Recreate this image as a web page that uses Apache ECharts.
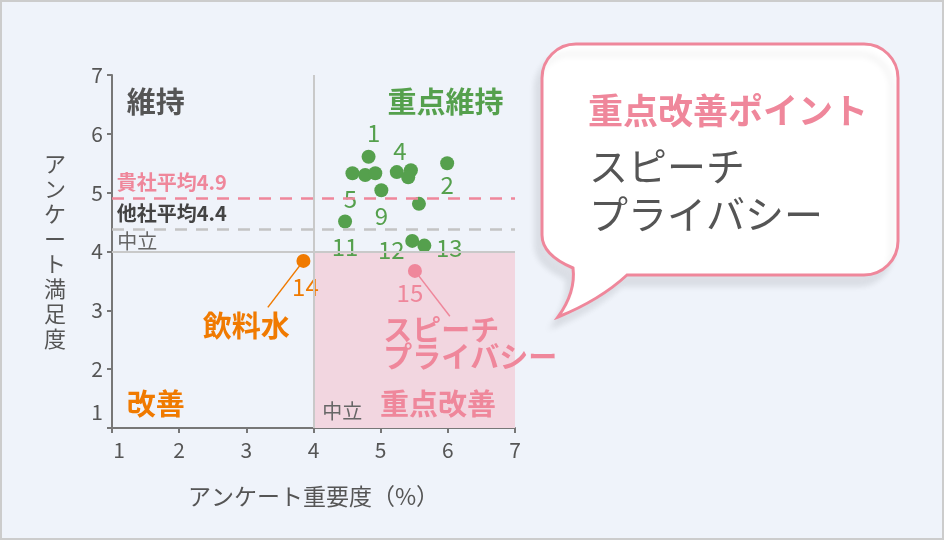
<!DOCTYPE html>
<html><head><meta charset="utf-8">
<script src="https://cdn.jsdelivr.net/npm/echarts@6/dist/echarts.min.js"></script>
<style>html,body{margin:0;padding:0;background:#eff3fa}#c{width:944px;height:540px}</style>
</head><body><div id="c"></div><script>
// ---- data ----
const pointIds     = [1, 2, 3, 4, 5, 6, 7, 8, 9, 10, 11, 12, 13, 14, 15];
const importance   = [4.82, 5.99, 5.45, 5.24, 4.58, 4.77, 4.92, 5.41, 5.01, 5.57, 4.47, 5.47, 5.65, 3.85, 5.51];
const satisfaction = [5.61, 5.50, 5.38, 5.35, 5.33, 5.30, 5.33, 5.26, 5.04, 4.81, 4.51, 4.18, 4.10, 3.84, 3.67];
const pointGroup   = ['重点維持','重点維持','重点維持','重点維持','重点維持','重点維持','重点維持','重点維持','重点維持','重点維持','重点維持','重点維持','重点維持','改善','重点改善'];
const labelledIds  = [1, 2, 4, 5, 9, 11, 12, 13, 14, 15];
const xTicks = [1, 2, 3, 4, 5, 6, 7];
const yTicks = [1, 2, 3, 4, 5, 6, 7];
const neutral = 4;
const ownAverage = 4.9;
const otherAverage = 4.37;
const quadrantNames = ['維持', '重点維持', '改善', '重点改善'];
const neutralLabel = '中立';
const ownAverageLabel = '貴社平均';
const otherAverageLabel = '他社平均';
const highlightNames = {14: '飲料水', 15: 'スピーチ\nプライバシー'};
const calloutTitle = '重点改善ポイント';
const calloutItems = ['スピーチ', 'プライバシー'];
const xName = 'アンケート重要度（%）';
const yName = 'アンケート満足度';

// ---- styles / layout ----
const FONT = 'Noto Sans CJK JP';
const groupColor = {'重点維持': '#55a04d', '改善': '#f07a00', '重点改善': '#ef879b'};
const PINK = '#ef879b', GREEN = '#55a04d', ORANGE = '#f07a00', DARK = '#555555', GRAY = '#666666';
const labelOffsets = {1:[5,-24], 2:[0,22], 4:[3,-21], 5:[-2,26], 9:[0,26], 11:[0,25], 12:[-21,9], 13:[25,2], 14:[2,26], 15:[-5,22]};
const leaderEnds = {14: [3.32, 3.05], 15: [6.03, 2.90]};
const textLayout = [
  {text: quadrantNames[0], at: [1.22, 6.54], color: DARK,   size: 29, weight: 'bold'},
  {text: quadrantNames[1], at: [5.10, 6.54], color: GREEN,  size: 29, weight: 'bold'},
  {text: quadrantNames[2], at: [1.22, 1.41], color: ORANGE, size: 29, weight: 'bold'},
  {text: quadrantNames[3], at: [4.99, 1.41], color: PINK,   size: 29, weight: 'bold'},
  {text: neutralLabel,     at: [4.13, 1.29], color: GRAY,   size: 20, weight: 'normal'},
  {text: neutralLabel,     at: [1.08, 4.18], color: GRAY,   size: 20, weight: 'normal'},
  {text: ownAverageLabel + ownAverage.toFixed(1),     at: [1.07, 5.17], color: PINK, size: 20, weight: 'bold'},
  {text: otherAverageLabel + otherAverage.toFixed(1), at: [1.07, 4.64], color: '#444444', size: 20, weight: 'bold'},
  {text: highlightNames[14], at: [2.35, 2.73], color: ORANGE, size: 29, weight: 'bold'},
  {text: highlightNames[15], at: [5.04, 2.43], color: PINK,   size: 29, weight: 'bold', lineHeight: 27}
];
const BUBBLE = 'M576,44 L864,44 A34,34 0 0 1 898,78 L898,241 A34,34 0 0 1 864,275 L627,275 Q600,300 558,317 Q576,292 573,268 Q542,255 542,235 L542,78 A34,34 0 0 1 576,44 Z';

const pointData = pointIds.map((id, i) => {
  const col = groupColor[pointGroup[i]];
  const shown = labelledIds.indexOf(id) >= 0;
  return {
    value: [importance[i], satisfaction[i]],
    itemStyle: {color: col, opacity: 1},
    label: {
      show: shown, formatter: String(id), position: 'inside',
      offset: labelOffsets[id] || [0, 0], color: col,
      fontSize: 24, fontFamily: FONT, align: 'center', verticalAlign: 'middle'
    }
  };
});

const leaderLines = Object.keys(leaderEnds).map(k => {
  const i = pointIds.indexOf(+k);
  return [
    {coord: [importance[i], satisfaction[i]], lineStyle: {color: groupColor[pointGroup[i]], width: 1.5, type: 'solid', opacity: 1}},
    {coord: leaderEnds[k]}
  ];
});

const axisCommon = {
  type: 'value', min: 1, max: 7, interval: 1,
  splitLine: {show: false},
  axisLine: {show: true, lineStyle: {color: '#777777', width: 2}},
  axisTick: {show: true, length: 5, lineStyle: {color: '#777777', width: 2}}
};

const chart = echarts.init(document.getElementById('c'), null, {renderer: 'canvas'});
chart.setOption({
  backgroundColor: '#eff3fa',
  animation: false,
  textStyle: {fontFamily: FONT},
  grid: {left: 112, top: 75, right: 429, bottom: 112},
  xAxis: Object.assign({}, axisCommon, {
    name: xName, nameLocation: 'middle', nameGap: 57,
    nameTextStyle: {fontFamily: FONT, fontSize: 23, color: DARK},
    axisLabel: {fontSize: 21, color: DARK, margin: 12, fontFamily: FONT,
      formatter: v => xTicks.indexOf(v) === 0 ? '{lo|' + v + '}' : String(v),
      rich: {lo: {fontSize: 21, color: DARK, fontFamily: FONT, padding: [0, 0, 0, 14]}}}
  }),
  yAxis: Object.assign({}, axisCommon, {
    name: yName.split('').join('\n'), nameLocation: 'middle', nameGap: 46, nameRotate: 0,
    nameTextStyle: {fontFamily: FONT, fontSize: 22, color: DARK, lineHeight: 25},
    axisLabel: {fontSize: 21, color: DARK, margin: 9, fontFamily: FONT,
      formatter: v => yTicks.indexOf(v) === 0 ? '{lo|' + v + '}' : String(v),
      rich: {lo: {fontSize: 21, color: DARK, fontFamily: FONT, padding: [0, 0, 32, 0]}}}
  }),
  series: [
    {
      type: 'scatter', data: [], z: 1, silent: true,
      markArea: {silent: true, itemStyle: {color: '#f2d6e0', opacity: 1},
        data: [[{coord: [neutral, 1]}, {coord: [7, neutral]}]]},
      markLine: {silent: true, symbol: 'none', label: {show: false},
        data: [
          [{coord: [1, neutral], lineStyle: {color: '#c9c9c9', width: 2, type: 'solid', opacity: 1}}, {coord: [7, neutral]}],
          [{coord: [neutral, 1], lineStyle: {color: '#c9c9c9', width: 2, type: 'solid', opacity: 1}}, {coord: [neutral, 7]}],
          [{coord: [1, ownAverage], lineStyle: {color: PINK, width: 2.5, type: [12, 9], opacity: 1}}, {coord: [7, ownAverage]}],
          [{coord: [1, otherAverage], lineStyle: {color: '#c4c4c4', width: 2.5, type: [12, 9], opacity: 1}}, {coord: [7, otherAverage]}]
        ]}
    },
    {
      type: 'scatter', z: 3, symbolSize: 14, data: pointData,
      itemStyle: {opacity: 1},
      markLine: {silent: true, symbol: 'none', label: {show: false}, data: leaderLines}
    },
    {
      type: 'scatter', z: 4, symbolSize: 0, silent: true,
      itemStyle: {opacity: 1},
      data: textLayout.map(t => ({
        value: t.at,
        itemStyle: {opacity: 1},
        label: {show: true, formatter: t.text, position: 'inside', align: 'left', verticalAlign: 'middle',
          color: t.color, fontSize: t.size, fontWeight: t.weight, fontFamily: FONT,
          lineHeight: t.lineHeight || t.size + 4}
      }))
    },
    {
      type: 'custom', coordinateSystem: 'none', silent: true, z: 50, data: [0],
      renderItem: () => ({
        type: 'path',
        shape: {pathData: BUBBLE, x: 542, y: 44, width: 356, height: 273},
        style: {fill: '#ffffff', stroke: PINK, lineWidth: 3, shadowBlur: 6, shadowOffsetX: -6, shadowOffsetY: 10, shadowColor: 'rgba(0,0,0,0.08)'}
      })
    }
  ],
  graphic: [
    {type: 'rect', shape: {x: 1, y: 1, width: 942, height: 538}, style: {fill: 'none', stroke: '#cccccc', lineWidth: 2}, z: 100},
    {type: 'text', z: 101, x: 588, y: 111,
      style: {text: calloutTitle, fill: PINK, font: 'bold 35px "' + FONT + '"', verticalAlign: 'middle'}},
    {type: 'text', z: 101, x: 589, y: 142,
      style: {text: calloutItems.join('\n'), fill: DARK, font: '39px "' + FONT + '"', lineHeight: 48, verticalAlign: 'top'}}
  ]
});
</script></body></html>
